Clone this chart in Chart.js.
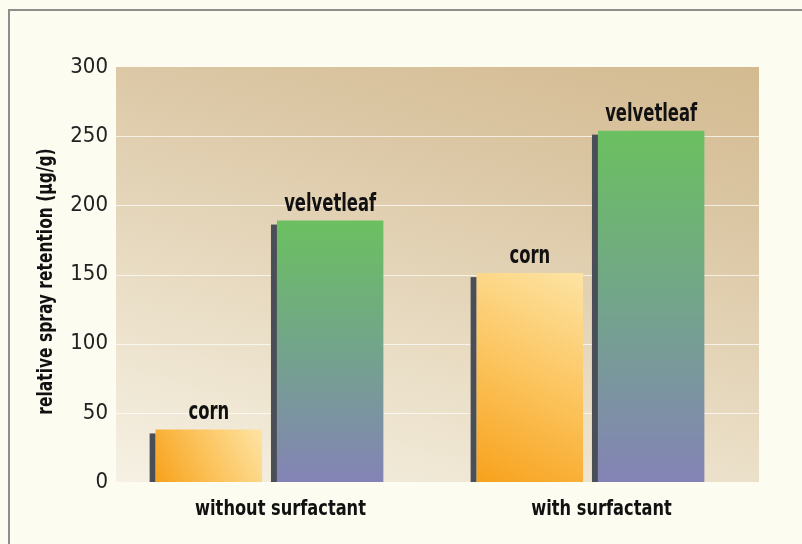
<!DOCTYPE html>
<html>
<head>
<meta charset="utf-8">
<script src="https://cdn.jsdelivr.net/npm/chart.js@4.4.1/dist/chart.umd.min.js"></script>
<style>
html, body { margin: 0; padding: 0; background: #fdfcf1; }
#wrap { position: relative; width: 802px; height: 544px; }
</style>
</head>
<body>
<div id="wrap"><canvas id="chart-area" width="802" height="544"></canvas></div>
<script>
var groups = ['without surfactant', 'with surfactant'];
var cornVals = [38, 151];
var velvetleafVals = [189, 254];
var yTicks = [0, 50, 100, 150, 200, 250, 300];
var yTitle = 'relative spray retention (µg/g)';

var narrow = '"DejaVu Sans Condensed", "DejaVu Sans", sans-serif';

// condensed text: draw with a horizontal squeeze
function squeezed(ctx, text, x, y, font, sx, rot) {
    ctx.save();
    ctx.translate(x, y);
    if (rot) ctx.rotate(rot);
    ctx.scale(sx, 1);
    ctx.font = font;
    ctx.fillText(text, 0, 0);
    ctx.restore();
}

// tan panel, frame, white grid lines, bar edges and all bold labels
var backdrop = {
    id: 'backdrop',
    beforeDraw: function(chart) {
        var ctx = chart.ctx;
        var a = chart.chartArea;
        ctx.save();
        ctx.fillStyle = '#fdfcf1';
        ctx.fillRect(0, 0, chart.width, chart.height);

        ctx.strokeStyle = '#8d8d8d';
        ctx.lineWidth = 2;
        ctx.beginPath();
        ctx.moveTo(9, chart.height);
        ctx.lineTo(9, 10);
        ctx.lineTo(chart.width, 10);
        ctx.stroke();

        // light at bottom left, darkest at top right, mostly vertical
        var l = a.left + 7, r = a.right + 8;
        var g = ctx.createLinearGradient(l, a.bottom, l + 152, a.bottom - 551);
        g.addColorStop(0, '#f6f1e4');
        g.addColorStop(0.3, '#ebe0c9');
        g.addColorStop(0.7, '#dcc8a6');
        g.addColorStop(1.0, '#d3ba90');
        ctx.fillStyle = g;
        ctx.fillRect(l, a.top, r - l, a.bottom - a.top);

        var ys = chart.scales.y;
        ctx.strokeStyle = 'rgba(255,255,255,0.7)';
        ctx.lineWidth = 1.2;
        yTicks.forEach(function(v) {
            if (v === 0 || v === 300) return;
            var y = Math.round(ys.getPixelForValue(v)) + 0.5;
            ctx.beginPath();
            ctx.moveTo(l, y);
            ctx.lineTo(r, y);
            ctx.stroke();
        });

        // category names under the panel
        var xs = chart.scales.x;
        ctx.fillStyle = '#111';
        ctx.textAlign = 'center';
        ctx.textBaseline = 'alphabetic';
        groups.forEach(function(name, i) {
            squeezed(ctx, name, xs.getPixelForValue(i) + 11, a.bottom + 33,
                'bold 22px ' + narrow, 0.82);
        });

        // y axis title
        squeezed(ctx, yTitle, 52, (a.top + a.bottom) / 2 + 7,
            'bold 21px ' + narrow, 0.82, -Math.PI / 2);
        ctx.restore();
    },
    beforeDatasetsDraw: function(chart) {
        var ctx = chart.ctx;
        chart.data.datasets.forEach(function(ds, di) {
            chart.getDatasetMeta(di).data.forEach(function(bar) {
                var left = bar.x - bar.width / 2;
                var right = bar.x + bar.width / 2;
                var g;
                if (di === 0) {
                    g = ctx.createLinearGradient(left, bar.base, right, bar.y);
                    g.addColorStop(0, '#f7a21c');
                    g.addColorStop(0.5, '#fcc45e');
                    g.addColorStop(1, '#fde4a4');
                } else {
                    g = ctx.createLinearGradient(0, bar.y, 0, bar.base);
                    g.addColorStop(0, '#6bc060');
                    g.addColorStop(0.5, '#73a48c');
                    g.addColorStop(1, '#8483b6');
                }
                bar.options.backgroundColor = g;

                // dark edge on the left of every bar
                ctx.fillStyle = '#4a4f57';
                ctx.fillRect(left - 6, bar.y + 4, 6, bar.base - bar.y - 4);
            });
        });
    },
    afterDatasetsDraw: function(chart) {
        var ctx = chart.ctx;
        ctx.save();
        ctx.fillStyle = '#111';
        ctx.textAlign = 'center';
        ctx.textBaseline = 'alphabetic';
        chart.data.datasets.forEach(function(ds, di) {
            chart.getDatasetMeta(di).data.forEach(function(bar) {
                squeezed(ctx, ds.label, bar.x, bar.y - 10, 'bold 24px ' + narrow, 0.76);
            });
        });
        ctx.restore();
    }
};

var config = {
    type: 'bar',
    data: {
        labels: groups,
        datasets: [{
            label: 'corn',
            data: cornVals,
            backgroundColor: function() { return '#fcc45e'; },
            barPercentage: 0.877,
            categoryPercentage: 0.756
        }, {
            label: 'velvetleaf',
            data: velvetleafVals,
            backgroundColor: function() { return '#73a48c'; },
            barPercentage: 0.877,
            categoryPercentage: 0.756
        }]
    },
    options: {
        responsive: false,
        animation: false,
        layout: { padding: { left: 0, right: 51, top: 67, bottom: 0 } },
        plugins: {
            legend: { display: false },
            tooltip: { enabled: false }
        },
        scales: {
            x: {
                grid: { display: false, drawTicks: false },
                border: { display: false },
                ticks: { display: false },
                afterFit: function(s) { s.height = 62; }
            },
            y: {
                min: 0,
                max: 300,
                grid: { display: false, drawTicks: false },
                border: { display: false },
                ticks: {
                    padding: 1,
                    color: '#222',
                    font: { family: narrow, size: 22 }
                },
                afterBuildTicks: function(s) {
                    s.ticks = yTicks.map(function(v) { return { value: v }; });
                },
                afterFit: function(s) { s.width = 109; }
            }
        }
    },
    plugins: [backdrop]
};

var ctx = document.getElementById('chart-area').getContext('2d');
window.myBars = new Chart(ctx, config);
</script>
</body>
</html>
